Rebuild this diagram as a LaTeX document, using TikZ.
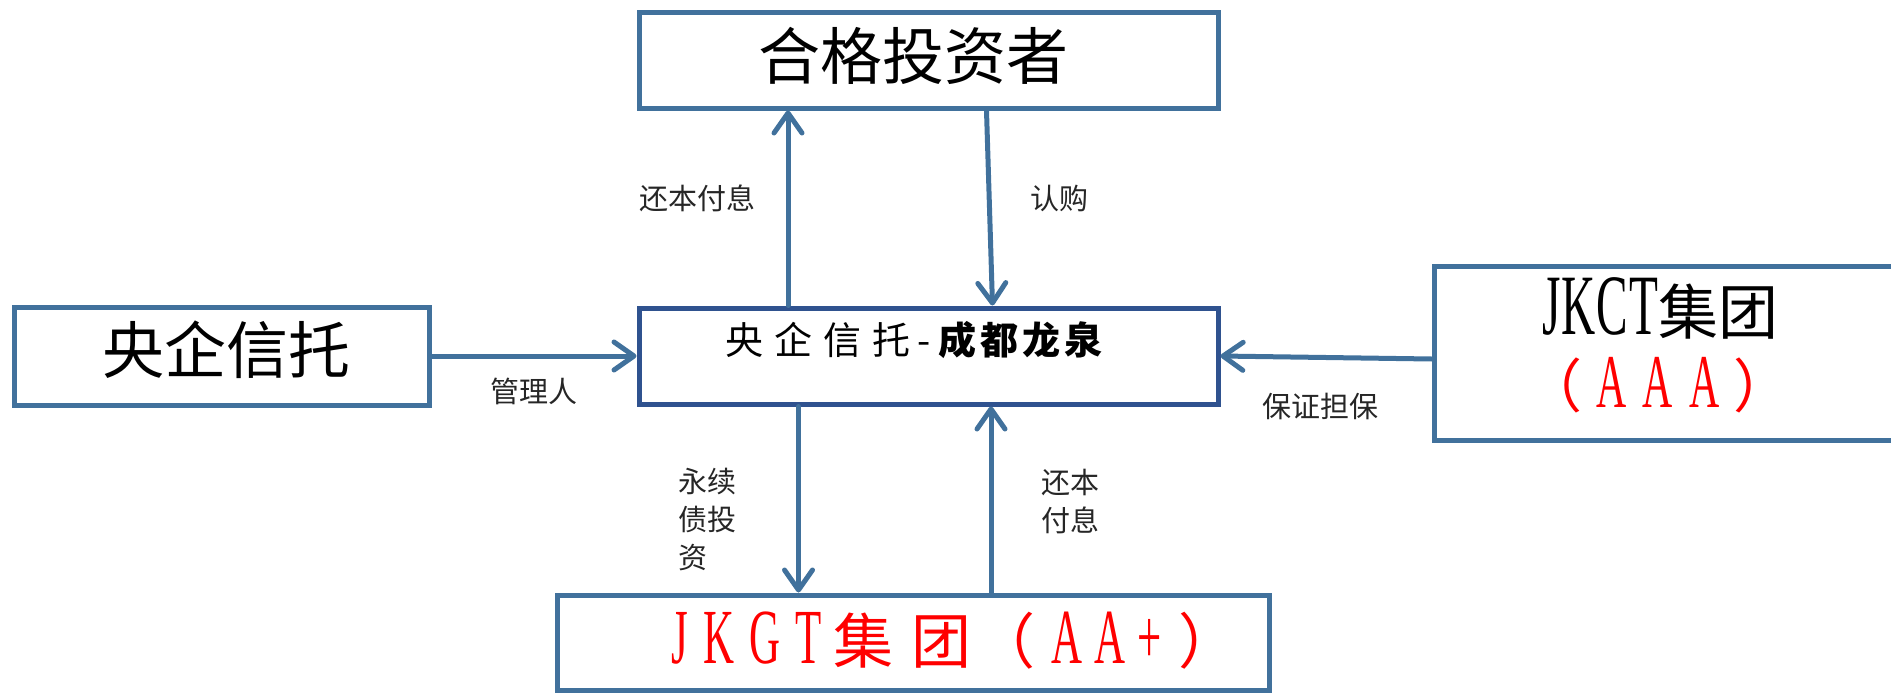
\documentclass[tikz,border=0pt]{standalone}
\usepackage{fontspec}
\setmainfont{Liberation Serif}
\newfontfamily\cjk{Noto Sans CJK SC}
\newfontfamily\latn[FakeStretch=0.55]{Liberation Serif}
\usetikzlibrary{arrows.meta}
\definecolor{lineblue}{HTML}{41719C}
\definecolor{darkblue}{HTML}{2F528F}
\definecolor{redtxt}{HTML}{FF0000}
\begin{document}
\begin{tikzpicture}[x=1pt,y=-1pt,
  box/.style={draw=lineblue, line width=5pt, fill=white, inner sep=0pt},
  conn/.style={draw=lineblue, line width=5pt, line cap=round,
    -{Straight Barb[length=20pt,width=28pt,line cap=round,line join=round]}},
  lbl/.style={font=\cjk\fontsize{29}{38}\selectfont, inner sep=0pt, text=black!85},
  bigtxt/.style={inner sep=0pt, font=\cjk\fontsize{62}{70}\selectfont}]
\useasboundingbox (0,0) rectangle (1891,693);
% boxes
\node[box, minimum width=579pt, minimum height=95pt] (inv) at (928.5,60.5) {};
\node[box, draw=darkblue, minimum width=579pt, minimum height=96pt] (cen) at (928.5,356) {};
\node[box, minimum width=415pt, minimum height=98pt] (trust) at (221.5,356) {};
\node[box, minimum width=466pt, minimum height=174pt] (jkct) at (1667,353) {};
\node[box, minimum width=712pt, minimum height=95pt] (jkgt) at (913,642.5) {};
% texts
\node[bigtxt] (invt) at (913,56) {合格投资者};
\node[bigtxt] (trustt) at (226,350) {央企信托};
\node[inner sep=0pt, font=\cjk\fontsize{38}{40}\selectfont] (cent) at (914,340)
  {央\hspace{11pt}企\hspace{11pt}信\hspace{11pt}托\hspace{7pt}-\hspace{7pt}{\bfseries 成\hspace{4pt}都\hspace{4pt}龙\hspace{4pt}泉}};
\node[inner sep=0pt] (jkct1) at (1660,308)
  {\latn\fontsize{86}{90}\selectfont J\hspace{1pt}K\hspace{1pt}C\hspace{1pt}T\cjk\fontsize{60}{70}\selectfont 集团};
\node[inner sep=0pt, text=redtxt] (jkct2) at (1658,385)
  {\cjk\fontsize{58}{70}\selectfont （\hspace{14pt}\latn\fontsize{76}{80}\selectfont A\hspace{16pt}A\hspace{16pt}A\hspace{14pt}\cjk\fontsize{58}{70}\selectfont ）};
\node[inner sep=0pt, text=redtxt] (jkgtt) at (955,641)
  {\latn\fontsize{78}{80}\selectfont J\hspace{15pt}K\hspace{15pt}G\hspace{15pt}T\hspace{12pt}\cjk\fontsize{60}{70}\selectfont 集\hspace{18pt}团\hspace{4pt}（\hspace{16pt}\latn\fontsize{78}{80}\selectfont A\hspace{12pt}A\hspace{12pt}+\hspace{16pt}\cjk\fontsize{60}{70}\selectfont ）};
% connectors
\draw[conn] ([xshift=-140.5pt]cen.north) -- ([xshift=-140.5pt]inv.south);
\draw[conn] ([xshift=58pt]inv.south) -- ([xshift=64pt]cen.north);
\draw[conn] (trust.east) -- (cen.west);
\draw[conn] ([yshift=-6pt]jkct.west) -- (cen.east);
\draw[conn] ([xshift=-130pt]cen.south) -- ([xshift=-114.5pt]jkgt.north);
\draw[conn] ([xshift=78pt]jkgt.north) -- ([xshift=62.5pt]cen.south);
% labels
\node[lbl] (l1) at (697,198) {还本付息};
\node[lbl] (l2) at (1059,198) {认购};
\node[lbl] (l3) at (534,391) {管理人};
\node[lbl] (l4) at (1320,406) {保证担保};
\node[lbl, anchor=west, align=left] (l5) at (678,520) {永续\\债投\\资};
\node[lbl, anchor=west, align=left] (l6) at (1041,502) {还本\\付息};
\end{tikzpicture}
\end{document}
